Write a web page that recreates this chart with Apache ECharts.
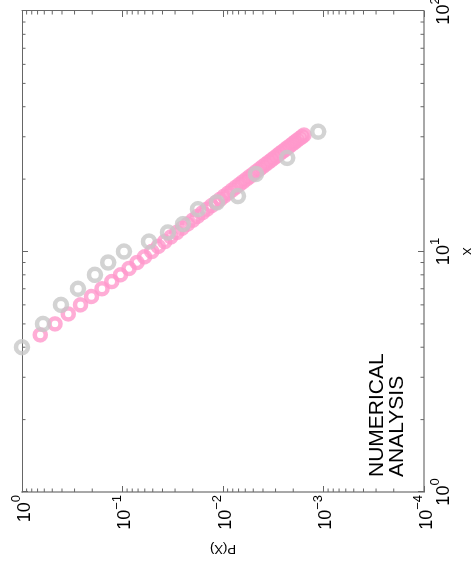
<!DOCTYPE html>
<html>
<head>
<meta charset="utf-8">
<script src="https://cdn.jsdelivr.net/npm/echarts@6/dist/echarts.min.js"></script>
<style>
html, body { margin: 0; padding: 0; background: #fff; }
#wrap { position: relative; width: 471px; height: 567px; overflow: hidden; }
/* chart drawn upright, then turned a quarter turn counter-clockwise */
#chart { position: absolute; left: 0; top: 0; width: 567px; height: 471px;
  transform-origin: 0 0; transform: translate(0, 567px) rotate(-90deg); }
</style>
</head>
<body>
<div id="wrap"><div id="chart"></div></div>
<script>
// measured data (X, P(X))
var grayX = [4, 5, 6, 7, 8, 9, 10, 11, 12, 13, 15, 16, 17, 21, 24.5, 31.5];
var grayP = [1.0, 0.618, 0.409, 0.277, 0.188, 0.139, 0.0966, 0.0545, 0.0353, 0.025,
  0.0177, 0.0115, 0.0071, 0.0047, 0.0023, 0.00113];

var pinkX = [4.5, 5, 5.5, 6, 6.5, 7, 7.5, 8, 8.5, 9, 9.5, 10, 10.5, 11, 11.5, 12, 12.5,
  13, 13.5, 14, 14.5, 15, 15.5, 16, 16.5, 17, 17.5, 18, 18.5, 19, 19.5, 20, 20.5, 21,
  21.5, 22, 22.5, 23, 23.5, 24, 24.5, 25, 25.5, 26, 26.5, 27, 27.5, 28, 28.5, 29, 29.5,
  30, 30.5];
var pinkP = [0.658, 0.470, 0.346, 0.262, 0.203, 0.160, 0.128, 0.1044, 0.0861, 0.0716,
  0.0603, 0.0512, 0.0440, 0.0380, 0.0330, 0.0289, 0.0255, 0.0225, 0.0200, 0.0179,
  0.0160, 0.0144, 0.0130, 0.01175, 0.01067, 0.00973, 0.00888, 0.00813, 0.00746,
  0.00686, 0.00633, 0.00585, 0.00541, 0.00501, 0.00466, 0.00434, 0.00404, 0.00378,
  0.00353, 0.00330, 0.00310, 0.00291, 0.00274, 0.00257, 0.00242, 0.00229, 0.00216,
  0.00204, 0.00193, 0.00183, 0.00173, 0.00164, 0.00156];

var minorX = [2, 3, 4, 5, 6, 7, 8, 9, 20, 30, 40, 50, 60, 70, 80, 90];
var minorP = [2e-4, 3e-4, 4e-4, 5e-4, 6e-4, 7e-4, 8e-4, 9e-4,
  2e-3, 3e-3, 4e-3, 5e-3, 6e-3, 7e-3, 8e-3, 9e-3,
  2e-2, 3e-2, 4e-2, 5e-2, 6e-2, 7e-2, 8e-2, 9e-2,
  0.2, 0.3, 0.4, 0.5, 0.6, 0.7, 0.8, 0.9];

var FONT = 'Liberation Sans, Arial, sans-serif';
var tickColor = '#666';

function powLabel(v) {
	var e = Math.round(Math.log(v) / Math.LN10);
	return '{b|10}{s|' + (e < 0 ? '\u2212' + (-e) : e) + '}';
}
var richPow = {
	b: { fontSize: 18, fontFamily: FONT, color: '#000', lineHeight: 24, verticalAlign: 'bottom' },
	s: { fontSize: 13, fontFamily: FONT, color: '#000', verticalAlign: 'top' }
};

function zip(a, b) {
	return a.map(function (v, i) { return [v, b[i]]; });
}

var chart = echarts.init(document.getElementById('chart'));

var option = {
	animation: false,
	grid: { left: 75, right: 11, top: 22, bottom: 47, show: false,
		containLabel: false, outerBoundsMode: 'none' },
	xAxis: [{
		type: 'log', logBase: 10, min: 1, max: 100, position: 'bottom',
		name: 'X', nameLocation: 'middle', nameGap: 38,
		nameTextStyle: { fontSize: 13, fontFamily: FONT, color: '#000' },
		axisLine: { lineStyle: { color: '#a8a8a8', width: 2 } },
		axisTick: { inside: true, length: 6, lineStyle: { color: tickColor } },
		splitLine: { show: false },
		axisLabel: { margin: 5, formatter: powLabel, rich: richPow }
	}, {
		type: 'log', logBase: 10, min: 1, max: 100, position: 'top',
		axisLine: { lineStyle: { color: '#666', width: 1 } },
		axisTick: { inside: true, length: 6, lineStyle: { color: tickColor } },
		splitLine: { show: false },
		axisLabel: { show: false }
	}],
	yAxis: [{
		type: 'log', logBase: 10, min: 1e-4, max: 1, position: 'left',
		name: 'P(X)', nameLocation: 'middle', nameRotate: 90, nameGap: 50,
		nameTextStyle: { fontSize: 13, fontFamily: FONT, color: '#000' },
		axisLine: { show: true, lineStyle: { color: '#a8a8a8', width: 2 } },
		axisTick: { show: true, inside: true, length: 6, lineStyle: { color: tickColor } },
		splitLine: { show: false },
		axisLabel: { margin: 3, formatter: powLabel, rich: richPow }
	}, {
		type: 'log', logBase: 10, min: 1e-4, max: 1, position: 'right',
		axisLine: { show: true, lineStyle: { color: '#666', width: 1 } },
		axisTick: { show: true, inside: true, length: 6, lineStyle: { color: tickColor } },
		splitLine: { show: false },
		axisLabel: { show: false }
	}],
	graphic: [{
		type: 'text', left: 90, top: 367,
		style: { text: 'NUMERICAL\nANALYSIS', font: '21px ' + FONT, fill: '#000', lineHeight: 20 }
	}],
	series: [
		{
			// minor ticks along X, on both edges
			type: 'custom', silent: true, z: 1,
			data: minorX.map(function (v) { return [v, 1]; }),
			renderItem: function (params, api) {
				var b = api.coord([api.value(0), 1e-4]);
				var t = api.coord([api.value(0), 1]);
				var st = { stroke: tickColor, lineWidth: 1 };
				return { type: 'group', children: [
					{ type: 'line', shape: { x1: b[0], y1: b[1], x2: b[0], y2: b[1] - 3.5 }, style: st },
					{ type: 'line', shape: { x1: t[0], y1: t[1], x2: t[0], y2: t[1] + 3.5 }, style: st }
				] };
			}
		},
		{
			// minor ticks along P(X), on both edges
			type: 'custom', silent: true, z: 1,
			data: minorP.map(function (v) { return [1, v]; }),
			renderItem: function (params, api) {
				var l = api.coord([1, api.value(1)]);
				var r = api.coord([100, api.value(1)]);
				var st = { stroke: tickColor, lineWidth: 1 };
				return { type: 'group', children: [
					{ type: 'line', shape: { x1: l[0], y1: l[1], x2: l[0] + 3.5, y2: l[1] }, style: st },
					{ type: 'line', shape: { x1: r[0], y1: r[1], x2: r[0] - 3.5, y2: r[1] }, style: st }
				] };
			}
		},
		{
			name: 'model', type: 'scatter', symbol: 'circle', symbolSize: 11, z: 2,
			itemStyle: { color: 'rgba(0,0,0,0)', borderColor: '#ff99cc', borderWidth: 4.5 },
			data: zip(pinkX, pinkP)
		},
		{
			name: 'data', type: 'scatter', symbol: 'circle', symbolSize: 12, z: 3,
			itemStyle: { color: 'rgba(0,0,0,0)', borderColor: '#c8c8c8', borderWidth: 4.5 },
			data: zip(grayX, grayP)
		}
	]
};

chart.setOption(option);
</script>
</body>
</html>
